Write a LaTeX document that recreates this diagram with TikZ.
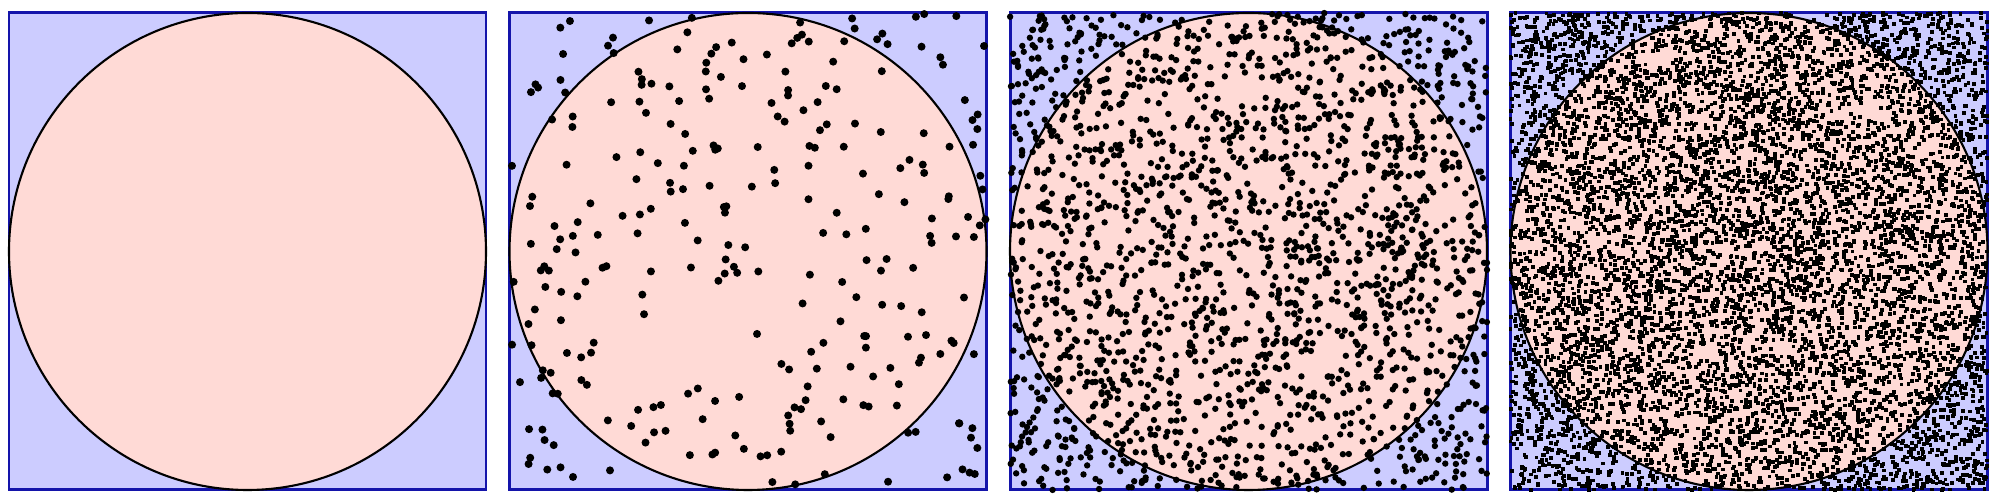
\documentclass[tikz,border=0pt]{standalone}
\usepackage{tikz}
\definecolor{sqfill}{RGB}{204,204,255}
\definecolor{sqline}{RGB}{20,20,170}
\definecolor{diskfill}{RGB}{255,218,214}
\tikzstyle{square} = [fill=sqfill, draw=sqline, line width=0.85pt]
\tikzstyle{disk} = [fill=diskfill, draw=black, line width=0.6pt]
\tikzstyle{hits} = [fill=black]

\begin{document}
\begin{tikzpicture}
	    \useasboundingbox (0,0) rectangle (20,5);
	    \pgfmathsetseed{4242}
	    % Squares and circles
	    \foreach \i in {0,1,2,3} {
	        \pgfmathsetmacro{\cx}{2.475+5.005*\i}
	        \draw [square] (\cx-2.385,0.1) rectangle (\cx+2.385,4.87);
	        \draw [disk] (\cx,2.485) circle (2.385);
	    }
	    % Random points
	    \begin{scope}[hits]
	    \foreach \i/\ns/\rad in {1/280/0.04, 2/2000/0.032} {
	        \pgfmathsetmacro{\cx}{2.475+5.005*\i}
	        \foreach \k in {1,...,\ns}
	            \fill ({\cx+2.385*rand},{2.485+2.385*rand}) circle (\rad);
	    }
	    % many points: small squares
	    \foreach \k in {1,...,8000}
	        \fill ({17.49-0.019+2.385*rand},{2.485-0.019+2.385*rand}) rectangle +(0.038,0.038);
	    \end{scope}
\end{tikzpicture}
\end{document}
